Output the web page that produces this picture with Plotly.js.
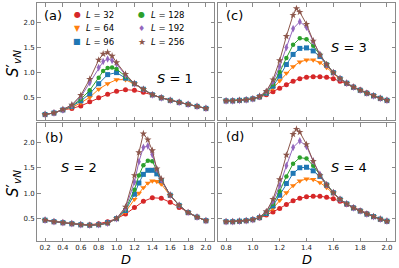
<!DOCTYPE html>
<html><head><meta charset="utf-8">
<script src="https://cdn.plot.ly/plotly-3.0.1.min.js"></script>
<style>html,body{margin:0;padding:0;background:#fff}#plot{width:399px;height:268px}</style>
</head><body><div id="plot"></div>
<script>
// ---- data ----
const sizes = ["32","64","96","128","192","256"];
const colors = ["#d62728","#ff7f0e","#1f77b4","#2ca02c","#9467bd","#8c564b"];
const symbols = ["circle","triangle-down","square","circle","diamond-tall","star"];
const markerSizes = [5,5.5,5,4.5,5.5,5.5];
const legendGlyphs = ["●","▼","■","●","♦","★"];

// panel (a) S=1
const xA  = [0.2,0.3,0.4,0.5,0.6,0.7,0.8,0.9,1.0,1.1,1.2,1.3,1.4,1.5,1.6,1.7,1.8,1.9,2.0];
const xAf = [0.2,0.3,0.4,0.5,0.6,0.7,0.8,0.85,0.9,0.95,1.0,1.1,1.2,1.3,1.4,1.5,1.6,1.7,1.8,1.9,2.0];
const a_L32  = [0.17,0.20,0.26,0.29,0.34,0.42,0.50,0.57,0.63,0.66,0.65,0.61,0.56,0.50,0.45,0.41,0.37,0.33,0.29];
const a_L64  = [0.17,0.20,0.26,0.31,0.40,0.51,0.67,0.78,0.86,0.86,0.77,0.66,0.56,0.50,0.45,0.41,0.37,0.33,0.29];
const a_L96  = [0.17,0.20,0.26,0.33,0.44,0.58,0.78,0.96,1.00,0.89,0.78,0.67,0.56,0.50,0.45,0.41,0.37,0.33,0.29];
const a_L128 = [0.17,0.20,0.26,0.34,0.47,0.65,0.90,1.03,1.09,1.10,1.07,0.92,0.78,0.67,0.56,0.50,0.45,0.41,0.37,0.33,0.29];
const a_L192 = [0.17,0.20,0.26,0.35,0.52,0.80,1.10,1.22,1.27,1.24,1.17,0.95,0.78,0.67,0.56,0.50,0.45,0.41,0.37,0.33,0.29];
const a_L256 = [0.17,0.20,0.27,0.36,0.55,0.87,1.25,1.37,1.40,1.33,1.20,0.97,0.78,0.67,0.56,0.50,0.45,0.41,0.37,0.33,0.29];

// panel (b) S=2
const xB  = [0.2,0.3,0.4,0.5,0.6,0.7,0.8,0.9,1.0,1.1,1.2,1.3,1.4,1.5,1.6,1.7,1.8,1.9,2.0];
const xBf = [0.2,0.3,0.4,0.5,0.6,0.7,0.8,0.9,1.0,1.1,1.2,1.25,1.3,1.35,1.4,1.45,1.5,1.6,1.7,1.8,1.9,2.0];
const b_L32  = [0.47,0.44,0.42,0.40,0.38,0.38,0.40,0.44,0.50,0.59,0.72,0.84,0.91,0.90,0.82,0.72,0.62,0.53,0.46];
const b_L64  = [0.47,0.44,0.42,0.40,0.38,0.37,0.38,0.42,0.50,0.63,0.88,1.00,1.11,1.20,1.24,1.23,1.18,0.95,0.76,0.62,0.53,0.46];
const b_L96  = [0.47,0.44,0.42,0.40,0.38,0.37,0.38,0.42,0.50,0.66,0.98,1.20,1.37,1.45,1.45,1.38,1.25,0.96,0.76,0.62,0.53,0.46];
const b_L128 = [0.47,0.44,0.42,0.40,0.38,0.37,0.38,0.41,0.50,0.68,1.07,1.35,1.55,1.64,1.63,1.46,1.26,0.96,0.76,0.62,0.53,0.46];
const b_L192 = [0.47,0.44,0.42,0.40,0.38,0.37,0.38,0.41,0.50,0.70,1.22,1.62,1.90,1.93,1.76,1.47,1.26,0.96,0.76,0.62,0.53,0.46];
const b_L256 = [0.47,0.44,0.42,0.40,0.38,0.37,0.38,0.41,0.50,0.73,1.35,1.80,2.17,2.05,1.84,1.48,1.28,0.96,0.76,0.62,0.53,0.46];

// panel (c) S=3
const xC  = [0.8,0.85,0.9,0.95,1.0,1.05,1.1,1.15,1.2,1.25,1.3,1.35,1.4,1.45,1.5,1.55,1.6,1.65,1.7,1.75,1.8,1.85,1.9,1.95,2.0];
const xCf = [0.8,0.85,0.9,0.95,1.0,1.05,1.1,1.15,1.2,1.25,1.3,1.325,1.35,1.4,1.45,1.5,1.55,1.6,1.65,1.7,1.75,1.8,1.85,1.9,1.95,2.0];
const c_L32  = [0.44,0.44,0.45,0.46,0.48,0.51,0.56,0.62,0.69,0.76,0.83,0.88,0.91,0.92,0.92,0.91,0.88,0.83,0.78,0.72,0.66,0.60,0.54,0.49,0.45];
const c_L64  = [0.44,0.44,0.45,0.46,0.48,0.52,0.58,0.69,0.84,0.99,1.12,1.21,1.25,1.25,1.20,1.10,0.98,0.87,0.79,0.71,0.65,0.59,0.54,0.49,0.45];
const c_L96  = [0.44,0.44,0.45,0.46,0.48,0.52,0.59,0.73,0.93,1.16,1.36,1.48,1.49,1.43,1.32,1.15,1.00,0.88,0.79,0.71,0.65,0.59,0.54,0.49,0.45];
const c_L128 = [0.44,0.44,0.45,0.46,0.48,0.52,0.60,0.77,1.01,1.29,1.55,1.68,1.66,1.53,1.36,1.17,1.00,0.88,0.79,0.71,0.65,0.59,0.54,0.49,0.45];
const c_L192 = [0.44,0.44,0.45,0.46,0.48,0.53,0.62,0.82,1.12,1.50,1.87,2.01,1.90,1.62,1.36,1.16,1.00,0.88,0.79,0.71,0.65,0.59,0.54,0.49,0.45];
const c_L256 = [0.44,0.44,0.45,0.46,0.48,0.53,0.63,0.86,1.24,1.72,2.14,2.27,2.20,1.96,1.63,1.35,1.16,1.00,0.88,0.79,0.71,0.65,0.59,0.54,0.49,0.45];

// panel (d) S=4
const xD  = xC;
const xDf = xCf;
const d_L32  = [0.44,0.44,0.45,0.46,0.48,0.51,0.57,0.63,0.70,0.78,0.85,0.90,0.93,0.94,0.94,0.92,0.89,0.84,0.78,0.72,0.66,0.60,0.54,0.49,0.45];
const d_L64  = [0.44,0.44,0.45,0.46,0.48,0.52,0.59,0.70,0.86,1.01,1.15,1.24,1.28,1.27,1.21,1.11,0.99,0.88,0.79,0.71,0.65,0.59,0.54,0.49,0.45];
const d_L96  = [0.44,0.44,0.45,0.46,0.48,0.52,0.60,0.75,0.96,1.19,1.39,1.50,1.51,1.44,1.33,1.16,1.01,0.88,0.79,0.71,0.65,0.59,0.54,0.49,0.45];
const d_L128 = [0.44,0.44,0.45,0.46,0.48,0.52,0.61,0.79,1.04,1.33,1.58,1.70,1.68,1.54,1.36,1.17,1.01,0.88,0.79,0.71,0.65,0.59,0.54,0.49,0.45];
const d_L192 = [0.44,0.44,0.45,0.46,0.48,0.53,0.63,0.84,1.15,1.54,1.90,2.03,1.92,1.63,1.37,1.17,1.01,0.88,0.79,0.71,0.65,0.59,0.54,0.49,0.45];
const d_L256 = [0.44,0.44,0.45,0.46,0.48,0.53,0.64,0.88,1.27,1.75,2.16,2.26,2.20,1.96,1.63,1.35,1.16,1.01,0.88,0.79,0.71,0.65,0.59,0.54,0.49,0.45];

const panels = [
  {xs:[xA,xA,xA,xAf,xAf,xAf], ys:[a_L32,a_L64,a_L96,a_L128,a_L192,a_L256], xa:"x",  ya:"y"},
  {xs:[xC,xC,xC,xC,xC,xCf],   ys:[c_L32,c_L64,c_L96,c_L128,c_L192,c_L256], xa:"x2", ya:"y2"},
  {xs:[xB,xBf,xBf,xBf,xBf,xBf], ys:[b_L32,b_L64,b_L96,b_L128,b_L192,b_L256], xa:"x3", ya:"y3"},
  {xs:[xD,xD,xD,xD,xD,xDf],   ys:[d_L32,d_L64,d_L96,d_L128,d_L192,d_L256], xa:"x4", ya:"y4"}
];

const traces = [];
panels.forEach(p => {
  for (let i = 0; i < sizes.length; i++) {
    traces.push({
      type:"scatter", mode:"lines+markers", x:p.xs[i], y:p.ys[i],
      xaxis:p.xa, yaxis:p.ya, showlegend:false, hoverinfo:"skip",
      line:{color:colors[i], width:1},
      marker:{color:colors[i], symbol:symbols[i], size:markerSizes[i], line:{width:0}}
    });
  }
});

// ---- layout ----
const W = 399, H = 268;
const px = v => v / W, py = v => 1 - v / H;
const FONT = "DejaVu Sans";
const frame = "#8a8a8a";
function ax(extra) {
  return Object.assign({
    showline:true, linecolor:frame, linewidth:1, mirror:"allticks",
    ticks:"inside", ticklen:3.5, tickwidth:1, tickcolor:frame,
    showgrid:false, zeroline:false, fixedrange:true,
    tickfont:{family:FONT, size:7, color:"#222"}
  }, extra);
}
const xLeft = {range:[0.11,2.09], tick0:0.2, dtick:0.2, tickformat:".1f"};
const xRight = {range:[0.74,2.06], tick0:0.8, dtick:0.2, tickformat:".1f"};
const yCommon = {range:[0.06,2.38], tickvals:[0.5,1.0,1.5,2.0], tickformat:".1f"};
const domL = [px(37), px(214)], domR = [px(218), px(395)];
const domT = [py(120), py(3)], domB = [py(241), py(123)];

const layout = {
  width:W, height:H, margin:{l:0,r:0,t:0,b:0},
  paper_bgcolor:"#fff", plot_bgcolor:"#fff", showlegend:false,
  font:{family:FONT, color:"#000"},
  xaxis:  ax(Object.assign({domain:domL, anchor:"y",  showticklabels:false}, xLeft)),
  yaxis:  ax(Object.assign({domain:domT, anchor:"x"}, yCommon)),
  xaxis2: ax(Object.assign({domain:domR, anchor:"y2", showticklabels:false}, xRight)),
  yaxis2: ax(Object.assign({domain:domT, anchor:"x2", showticklabels:false}, yCommon)),
  xaxis3: ax(Object.assign({domain:domL, anchor:"y3"}, xLeft)),
  yaxis3: ax(Object.assign({domain:domB, anchor:"x3"}, yCommon)),
  xaxis4: ax(Object.assign({domain:domR, anchor:"y4"}, xRight)),
  yaxis4: ax(Object.assign({domain:domB, anchor:"x4", showticklabels:false}, yCommon)),
  annotations:[]
};

function ann(text, x, y, size, opts) {
  layout.annotations.push(Object.assign({
    text:text, xref:"paper", yref:"paper", x:px(x), y:py(y),
    xanchor:"center", yanchor:"middle", showarrow:false,
    font:{family:FONT, size:size, color:"#000"}
  }, opts || {}));
}
// panel tags
ann("(a)", 52.5, 15.5, 13);
ann("(c)", 234.5, 15.5, 13);
ann("(b)", 53.5, 137, 13);
ann("(d)", 234.5, 136.5, 13);
// S labels
ann("<i>S</i> = 1", 175, 78, 13);
ann("<i>S</i> = 3", 349, 47, 13);
ann("<i>S</i> = 2", 78.5, 167, 13);
ann("<i>S</i> = 4", 349, 167, 13);
// axis labels
ann("<i>D</i>", 125.5, 259, 13);
ann("<i>D</i>", 306.5, 259, 13);
ann("<i>S</i>′<sub><i>vN</i></sub>", 13, 64, 15, {textangle:-90});
ann("<i>S</i>′<sub><i>vN</i></sub>", 13, 184, 15, {textangle:-90});
// legend (two columns)
const legCols = [77, 141.7], legRows = [15, 28.3, 41.7];
for (let i = 0; i < sizes.length; i++) {
  const col = Math.floor(i / 3), row = i % 3;
  const gx = legCols[col], gy = legRows[row];
  layout.annotations.push({
    text:legendGlyphs[i], xref:"paper", yref:"paper", x:px(gx), y:py(gy),
    xanchor:"center", yanchor:"middle", showarrow:false,
    font:{family:FONT, size:(i===5?9:8), color:colors[i]}
  });
  layout.annotations.push({
    text:"<i>L</i> = " + sizes[i], xref:"paper", yref:"paper", x:px(gx + 7), y:py(gy),
    xanchor:"left", yanchor:"middle", showarrow:false,
    font:{family:FONT, size:8.5, color:"#000"}
  });
}

Plotly.newPlot("plot", traces, layout, {staticPlot:true, displayModeBar:false});
</script>
</body></html>
